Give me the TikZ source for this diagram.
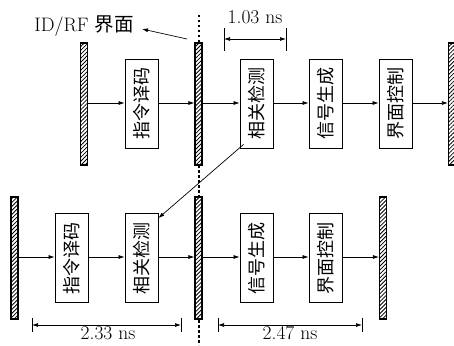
\documentclass[tikz,border=0pt]{standalone}
\usepackage{fontspec}
\newfontfamily\cjk{Noto Sans CJK SC}
\usetikzlibrary{patterns.meta,arrows.meta}
\newcommand{\vtext}[1]{\rotatebox{90}{#1}}
\begin{document}
\begin{tikzpicture}[x=1pt,y=-1pt,
  stage/.style={draw,line width=0.8pt,minimum width=33pt,minimum height=89pt,inner sep=0pt,
     font=\cjk\fontsize{18}{18}\selectfont},
  reg/.style={draw,line width=1.1pt,preaction={fill=white},pattern={Lines[angle=45,distance=2.8pt,line width=0.8pt]},minimum width=7pt,minimum height=122pt,inner sep=0pt},
  flow/.style={-{Latex[length=6pt,width=4pt]},line width=0.7pt},
  dim/.style={{Latex[length=6pt,width=4pt]}-{Latex[length=6pt,width=4pt]},line width=0.7pt},
  tick/.style={line width=0.7pt},
  lbl/.style={font=\fontsize{19.5}{19.5}\selectfont,inner sep=0pt,anchor=base}]
\useasboundingbox (0,0) rectangle (454,345);
% dotted interface line
\coordinate (dtop) at (198.5,15);
\coordinate (dbot) at (198.5,345);
\draw[line width=2pt,dash pattern=on 2.5pt off 2.5pt] (dtop) -- (dbot);
% top row
\node[reg] (tr1) at (84,104) {};
\node[reg] (tr2) at (198.5,104) {};
\node[reg] (tr3) at (452,104) {};
\node[stage] (ta) at (141.5,103.5) {\vtext{指令译码}};
\node[stage] (tb) at (256.5,103.5) {\vtext{相关检测}};
\node[stage] (tc) at (325.5,103.5) {\vtext{信号生成}};
\node[stage] (td) at (395.5,103.5) {\vtext{界面控制}};
\draw[flow] (tr1.east |- 0,103) -- (ta.west |- 0,103);
\draw[flow] (ta.east |- 0,103) -- (tr2.west |- 0,103);
\draw[flow] (tr2.east |- 0,103) -- (tb.west |- 0,103);
\draw[flow] (tb.east |- 0,103) -- (tc.west |- 0,103);
\draw[flow] (tc.east |- 0,103) -- (td.west |- 0,103);
\draw[flow] (td.east |- 0,103) -- (tr3.west |- 0,103);
% bottom row
\node[reg] (br1) at (14.5,258) {};
\node[reg] (br2) at (198.5,258) {};
\node[reg] (br3) at (383,258) {};
\node[stage] (ba) at (71.5,258) {\vtext{指令译码}};
\node[stage] (bb) at (141.5,258) {\vtext{相关检测}};
\node[stage] (bc) at (256.5,258) {\vtext{信号生成}};
\node[stage] (bd) at (325.5,258) {\vtext{界面控制}};
\draw[flow] (br1.east |- 0,257) -- (ba.west |- 0,257);
\draw[flow] (ba.east |- 0,257) -- (bb.west |- 0,257);
\draw[flow] (bb.east |- 0,257) -- (br2.west |- 0,257);
\draw[flow] (br2.east |- 0,257) -- (bc.west |- 0,257);
\draw[flow] (bc.east |- 0,257) -- (bd.west |- 0,257);
\draw[flow] (bd.east |- 0,257) -- (br3.west |- 0,257);
% diagonal arrow
\draw[flow] ([shift={(4pt,4pt)}]tb.south west) -- ([shift={(0pt,-5pt)}]bb.north east);
% ID/RF label
\node[lbl] (idrf) at (84,31) {ID/RF {\cjk 界面}};
\coordinate (idrfp) at (187,39);
\draw[flow] (idrfp) -- (142,29);
% 1.03 ns
\coordinate (d1a) at (224,39);
\coordinate (d1b) at (286,39);
\draw[tick] (224,28) -- (224,51);
\draw[tick] (286,28) -- (286,51);
\draw[dim] (d1a) -- (d1b);
\node[lbl] (t1) at (255,24) {1.03 ns};
% 2.33 ns
\coordinate (d2a) at (32,325);
\coordinate (d2b) at (181,325);
\draw[tick] (32,318) -- (32,332);
\draw[tick] (181,318) -- (181,332);
\draw[dim] (d2a) -- (d2b);
\node[lbl] (t2) at (108,339) {2.33 ns};
% 2.47 ns
\coordinate (d3a) at (218,325);
\coordinate (d3b) at (362,325);
\draw[tick] (218,318) -- (218,332);
\draw[tick] (362,318) -- (362,332);
\draw[dim] (d3a) -- (d3b);
\node[lbl] (t3) at (290,339) {2.47 ns};
\end{tikzpicture}
\end{document}
